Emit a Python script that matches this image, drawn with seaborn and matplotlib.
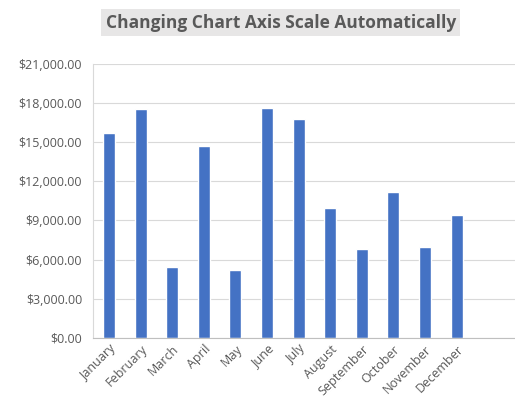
import matplotlib as mp
mp.use('Agg')
import matplotlib.pyplot as plt
import seaborn as sns
import pandas as pd
from matplotlib.ticker import FuncFormatter

months = ["January", "February", "March", "April", "May", "June", "July",
          "August", "September", "October", "November", "December"]
sales = [15670, 17560, 5430, 14680, 5210, 17640, 16800,
         9980, 6800, 11200, 6950, 9450]

df = pd.DataFrame({"Month": months, "Sales": sales})

sns.set_style("white")
plt.rcParams['font.family'] = ['Open Sans', 'DejaVu Sans']

fig = plt.figure(figsize=(5.15, 4.12), dpi=100)
ax = fig.add_axes([0.181, 0.180, 0.819, 0.665])
sns.barplot(data=df, x="Month", y="Sales", color="#4472C4", width=0.38,
            saturation=1, ax=ax)

ax.set_ylim(0, 21000)
ax.set_yticks(range(0, 21001, 3000))
ax.yaxis.set_major_formatter(FuncFormatter(lambda v, p: "${:,.2f}".format(v)))
ax.set_xlim(-0.5, 12.85)
ax.grid(axis="y", color="#D9D9D9", linewidth=0.8)
ax.set_axisbelow(True)
for s in ["top", "right"]:
    ax.spines[s].set_visible(False)
ax.spines["left"].set_color("#D9D9D9")
ax.spines["bottom"].set_color("#BFBFBF")
ax.tick_params(axis="y", labelsize=9, colors="#595959", length=0, pad=8)
ax.tick_params(axis="x", labelsize=9, colors="#595959", length=0)
plt.setp(ax.get_xticklabels(), rotation=45, ha="right", rotation_mode="anchor")
ax.set_xlabel("")
ax.set_ylabel("")

fig.text(0.545, 0.945, "Changing Chart Axis Scale Automatically", ha="center",
         va="center", fontsize=12.5, fontweight="bold", color="#595959",
         bbox=dict(facecolor="#E7E6E6", edgecolor="none", pad=3))

fig.savefig("out.png", dpi=100)
